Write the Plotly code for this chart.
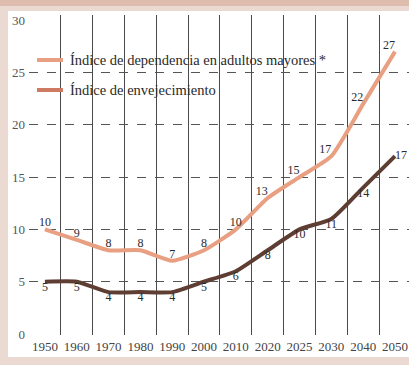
import plotly.graph_objects as go

# Data
years = ["1950", "1960", "1970", "1980", "1990", "2000", "2010",
         "2020", "2025", "2030", "2040", "2050"]
dependencia = [10, 9, 8, 8, 7, 8, 10, 13, 15, 17, 22, 27]
envejecimiento = [5, 5, 4, 4, 4, 5, 6, 8, 10, 11, 14, 17]
y_ticks = [0, 5, 10, 15, 20, 25, 30]
legend_names = ["Índice de dependencia en adultos mayores *",
                "Índice de envejecimiento"]

W, H = 409, 365
L, R, T, B = 29, 0, 15, 30
PW, PH = W - L - R, H - T - B

def px(x):
    return (x - L) / PW

def py(y):
    return (H - B - y) / PH

C_DEP = "#E89F82"
C_ENV = "#5E3E33"
TXT = "#2a2a2a"
SERIF = "Liberation Serif, Times New Roman, serif"

x = list(range(len(years)))
fig = go.Figure()

fig.add_trace(go.Scatter(
    x=x, y=dependencia, mode="lines",
    line=dict(color=C_DEP, width=4, shape="spline", smoothing=0.5),
    showlegend=False,
))
fig.add_trace(go.Scatter(
    x=x, y=envejecimiento, mode="lines",
    line=dict(color=C_ENV, width=4, shape="spline", smoothing=0.5),
    showlegend=False,
))
# value labels above the dependency line
dep_pos = ["top center"] * 7 + ["top left"] * 5
fig.add_trace(go.Scatter(
    x=x, y=dependencia, mode="text",
    text=[str(v) for v in dependencia], textposition=dep_pos,
    textfont=dict(family=SERIF, size=12, color=TXT),
    showlegend=False, cliponaxis=False,
))
# labels under the ageing index line, last one to the right
env_pos = ["bottom center"] * (len(years) - 1) + ["middle right"]
fig.add_trace(go.Scatter(
    x=x, y=envejecimiento, mode="text",
    text=[str(v) for v in envejecimiento], textposition=env_pos,
    textfont=dict(family=SERIF, size=12, color=TXT),
    showlegend=False, cliponaxis=False,
))
# invisible trace on the secondary axes so their grids are drawn
fig.add_trace(go.Scatter(x=[0, 11], y=[0, 0], xaxis="x2", yaxis="y2",
                         mode="markers", marker=dict(opacity=0),
                         showlegend=False, hoverinfo="skip"))

fig.update_layout(
    width=W, height=H,
    margin=dict(l=L, r=R, t=T, b=B),
    paper_bgcolor="#EBDAD1",
    plot_bgcolor="rgba(0,0,0,0)",
    font=dict(family=SERIF, color=TXT),
    xaxis=dict(range=[-0.5, 11.44], tickvals=x, ticktext=years,
               showgrid=False, zeroline=False, showline=False, ticks="",
               tickfont=dict(size=13, color="#444"), ticklabelstandoff=2),
    yaxis=dict(range=[-0.1, 30.5], tickvals=y_ticks,
               showgrid=False, zeroline=False, showline=False, ticks="",
               tickfont=dict(size=13, color="#555"), ticklabelstandoff=3),
    xaxis2=dict(overlaying="x", range=[-0.5, 11.44],
                tickvals=[i + 0.5 for i in range(11)], showticklabels=False,
                showgrid=True, gridcolor="#4a4a4a", gridwidth=1.3,
                zeroline=False, ticks=""),
    yaxis2=dict(overlaying="y", range=[-0.1, 30.5], tickvals=y_ticks[1:-1],
                showticklabels=False, showgrid=True, gridcolor="#555",
                gridwidth=1.2, griddash="dash", zeroline=False, ticks=""),
    shapes=[
        dict(type="rect", xref="paper", yref="paper", layer="below",
             x0=px(0), x1=px(W + 2), y0=py(0), y1=py(6),
             fillcolor="#DEBDAE", line=dict(width=0)),
        dict(type="rect", xref="paper", yref="paper", layer="below",
             x0=px(8), x1=px(W + 2), y0=py(11), y1=py(357),
             fillcolor="white", line=dict(width=0)),
        dict(type="line", xref="paper", yref="paper",
             x0=px(37), x1=px(63), y0=py(60), y1=py(60),
             line=dict(color=C_DEP, width=4)),
        dict(type="line", xref="paper", yref="paper",
             x0=px(37), x1=px(63), y0=py(90), y1=py(90),
             line=dict(color="#CF7A62", width=4)),
    ],
    annotations=[
        dict(xref="paper", yref="paper", x=px(68), y=py(60),
             xanchor="left", yanchor="middle", showarrow=False,
             text=legend_names[0], font=dict(family=SERIF, size=14.5, color=TXT)),
        dict(xref="paper", yref="paper", x=px(68), y=py(90),
             xanchor="left", yanchor="middle", showarrow=False,
             text=legend_names[1], font=dict(family=SERIF, size=14.5, color=TXT)),
    ],
)

fig.write_html("out.html")
